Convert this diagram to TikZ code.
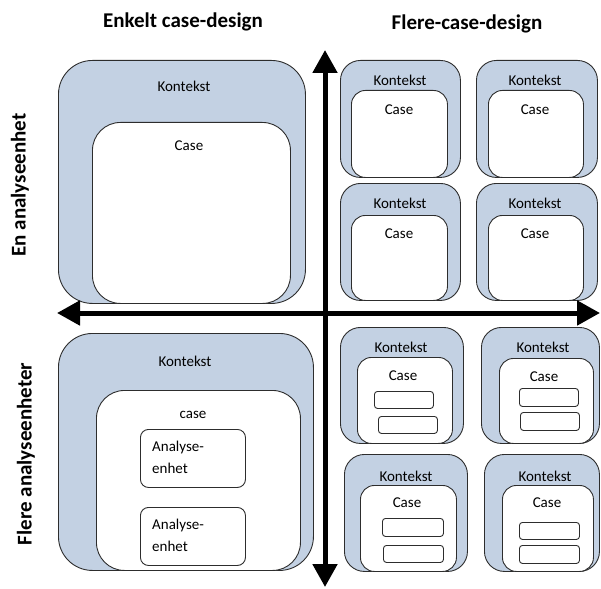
\documentclass[tikz,border=0pt]{standalone}
\usepackage{fontspec}
\setmainfont{Carlito}
\usepackage{tikz}
\usetikzlibrary{arrows.meta}
\definecolor{ctxblue}{RGB}{195,209,227}
\definecolor{edgegray}{RGB}{45,45,45}

\begin{document}
\begin{tikzpicture}[x=1pt,y=-1pt]
  \tikzstyle{ctxbox}=[rectangle,rounded corners=34pt,draw=edgegray,line width=0.9pt,fill=ctxblue,inner sep=0pt,anchor=north west]
  \tikzstyle{casebox}=[ctxbox,rounded corners=28pt,fill=white]
  \tikzstyle{ctxsmall}=[ctxbox,rounded corners=20pt]
  \tikzstyle{casesmall}=[casebox,rounded corners=14pt]
  \tikzstyle{unitbox}=[rectangle,rounded corners=8pt,draw=edgegray,line width=0.9pt,fill=white,inner sep=0pt,anchor=north west]
  \tikzstyle{unitsmall}=[unitbox,rounded corners=3pt]
  \tikzstyle{txt}=[inner sep=0pt,font=\fontsize{15}{22}\selectfont]
  \tikzstyle{head}=[inner sep=0pt,font=\bfseries\fontsize{21}{24}\selectfont]
  \tikzstyle{axis}=[line width=5pt,{Triangle[width=24pt,length=23pt]}-{Triangle[width=24pt,length=23pt]}]

  \useasboundingbox (0,0) rectangle (601,588);

  % headings
  \node[head] (hsingle) at (183,22) {Enkelt case-design};
  \node[head] (hmulti) at (467,24) {Flere-case-design};
  \node[head,rotate=90] (hone) at (20,185) {En analyseenhet};
  \node[head,rotate=90] (hmany) at (26,454) {Flere analyseenheter};

  % single case, one unit
  \node[ctxbox,minimum width=247pt,minimum height=243pt] (k1) at (58,60) {};
  \node[casebox,minimum width=198pt,minimum height=181pt] (c1) at (92,122) {};
  \node[txt] (k1t) at (184,86) {Kontekst};
  \node[txt] (c1t) at (189,146) {Case};

  % multiple cases, one unit
  \node[ctxsmall,minimum width=120pt,minimum height=117pt] (ka) at (340,60) {};
  \node[casesmall,minimum width=96pt,minimum height=87pt] (ca) at (351,90) {};
  \node[txt] (kat) at (400,80) {Kontekst};
  \node[txt] (cat) at (399,110) {Case};

  \node[ctxsmall,minimum width=121pt,minimum height=117pt] (kb) at (476,60) {};
  \node[casesmall,minimum width=95pt,minimum height=87pt] (cb) at (488,90) {};
  \node[txt] (kbt) at (535,80) {Kontekst};
  \node[txt] (cbt) at (535,110) {Case};

  \node[ctxsmall,minimum width=120pt,minimum height=117pt] (kc) at (340,183) {};
  \node[casesmall,minimum width=96pt,minimum height=85pt] (cc) at (351,215) {};
  \node[txt] (kct) at (400,203) {Kontekst};
  \node[txt] (cct) at (399,234) {Case};

  \node[ctxsmall,minimum width=121pt,minimum height=117pt] (kd) at (476,183) {};
  \node[casesmall,minimum width=95pt,minimum height=85pt] (cd) at (488,215) {};
  \node[txt] (kdt) at (535,203) {Kontekst};
  \node[txt] (cdt) at (535,234) {Case};

  % single case, several units
  \node[ctxbox,minimum width=255pt,minimum height=237pt] (k2) at (58,333) {};
  \node[casebox,minimum width=204pt,minimum height=180pt] (c2) at (96,390) {};
  \node[txt] (k2t) at (185,361) {Kontekst};
  \node[txt] (c2t) at (193,415) {case};
  \node[unitbox,minimum width=105pt,minimum height=58pt] (u1) at (140,429) {};
  \node[txt,align=left,anchor=west] (u1t) at (152,457) {Analyse-\\enhet};
  \node[unitbox,minimum width=105pt,minimum height=58pt] (u2) at (140,507) {};
  \node[txt,align=left,anchor=west] (u2t) at (152,535) {Analyse-\\enhet};

  % multiple cases, several units
  \node[ctxsmall,minimum width=123pt,minimum height=116pt] (ke) at (340,327) {};
  \node[casesmall,minimum width=95pt,minimum height=86pt] (ce) at (357,357) {};
  \node[txt] (ket) at (401,347) {Kontekst};
  \node[txt] (cet) at (403,376) {Case};
  \node[unitsmall,minimum width=59pt,minimum height=17pt] (e1) at (374,391) {};
  \node[unitsmall,minimum width=59pt,minimum height=17pt] (e2) at (378,416) {};

  \node[ctxsmall,minimum width=118pt,minimum height=116pt] (kf) at (481,327) {};
  \node[casesmall,minimum width=94pt,minimum height=85pt] (cf) at (499,358) {};
  \node[txt] (kft) at (543,347) {Kontekst};
  \node[txt] (cft) at (544,377) {Case};
  \node[unitsmall,minimum width=59pt,minimum height=18pt] (f1) at (519,388) {};
  \node[unitsmall,minimum width=59pt,minimum height=18pt] (f2) at (520,412) {};

  \node[ctxsmall,minimum width=123pt,minimum height=117pt] (kg) at (344,454) {};
  \node[casesmall,minimum width=96pt,minimum height=86pt] (cg) at (360,485) {};
  \node[txt] (kgt) at (406,476) {Kontekst};
  \node[txt] (cgt) at (407,503) {Case};
  \node[unitsmall,minimum width=61pt,minimum height=18pt] (g1) at (382,518) {};
  \node[unitsmall,minimum width=60pt,minimum height=17pt] (g2) at (383,545) {};

  \node[ctxsmall,minimum width=115pt,minimum height=117pt] (kh) at (484,454) {};
  \node[casesmall,minimum width=91pt,minimum height=86pt] (ch) at (502,485) {};
  \node[txt] (kht) at (545,476) {Kontekst};
  \node[txt] (cht) at (547,503) {Case};
  \node[unitsmall,minimum width=60pt,minimum height=17pt] (h1) at (519,522) {};
  \node[unitsmall,minimum width=60pt,minimum height=18pt] (h2) at (519,545) {};

  % axes
  \coordinate (top) at (325,50);
  \coordinate (bottom) at (325,587);
  \coordinate (left) at (57,313);
  \coordinate (right) at (600,313);
  \draw[axis] (bottom) -- (top);
  \draw[axis] (left) -- (right);

\end{tikzpicture}
\end{document}
